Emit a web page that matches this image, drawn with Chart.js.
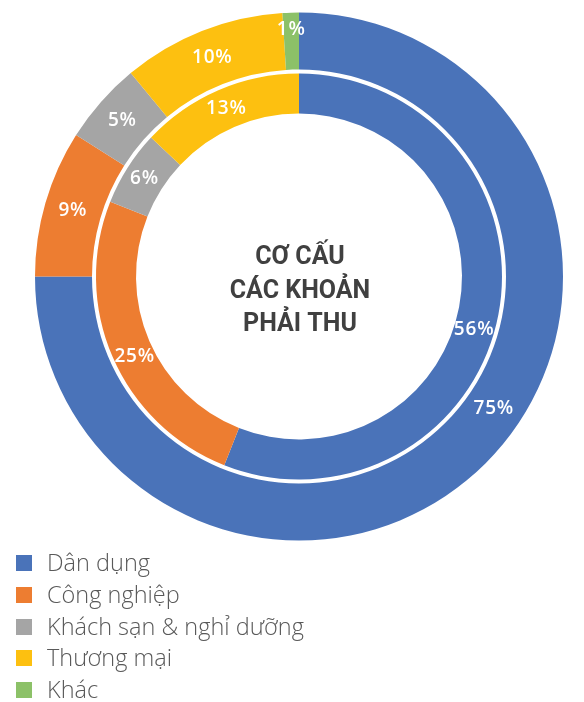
<!DOCTYPE html>
<html lang="vi">
<head>
<meta charset="utf-8">
<title>Cơ cấu các khoản phải thu</title>
<script src="https://cdn.jsdelivr.net/npm/chart.js@4.4.1/dist/chart.umd.min.js"></script>
<style>
  html, body { margin: 0; padding: 0; background: #fff; }
  #wrap { position: relative; width: 584px; height: 702px; overflow: hidden; }
  #chart { position: absolute; left: 0; top: 0; }
  #legend { position: absolute; left: 16px; top: 547px; margin: 0; padding: 0; list-style: none;
            font-family: "Open Sans", "Noto Sans", sans-serif; font-weight: 300; font-size: 23.5px; color: #595959; }
  #legend li { position: relative; height: 31.8px; line-height: 31.8px; padding-left: 31px; white-space: nowrap; }
  #legend li span.box { position: absolute; left: 0; top: 8px; width: 16px; height: 16px; }
</style>
</head>
<body>
<div id="wrap">
  <canvas id="chart" width="584" height="555"></canvas>
  <ul id="legend"></ul>
</div>
<script>
// Categories of receivables
const categories = ["Dân dụng", "Công nghiệp", "Khách sạn & nghỉ dưỡng", "Thương mại", "Khác"];
// Outer ring (%)
const outerValues = [75, 9, 5, 10, 1];
// Inner ring (%)
const innerValues = [56, 25, 6, 13, 0];
const colors = ["#4A73B9", "#ED7D31", "#A5A5A5", "#FDC010", "#8CC168"];
const centerTitle = ["CƠ CẤU", "CÁC KHOẢN", "PHẢI THU"];

// Percentage labels drawn on each arc
const arcLabels = {
  id: "arcLabels",
  afterDatasetsDraw(chart, args, opts) {
    const ctx = chart.ctx;
    ctx.save();
    ctx.fillStyle = opts.color;
    ctx.font = opts.font;
    if ("letterSpacing" in ctx) ctx.letterSpacing = opts.letterSpacing;
    ctx.textAlign = "center";
    ctx.textBaseline = "middle";
    chart.data.datasets.forEach((ds, di) => {
      if (!ds.showLabels) return;
      const meta = chart.getDatasetMeta(di);
      meta.data.forEach((arc, i) => {
        const v = ds.data[i];
        if (!v) return;
        const p = arc.getProps(["x", "y", "startAngle", "endAngle", "innerRadius", "outerRadius"], true);
        const along = (ds.labelAlong && ds.labelAlong[i] != null) ? ds.labelAlong[i] : 0.5;
        const push = (ds.labelPush && ds.labelPush[i]) || 0;
        const a = p.startAngle + (p.endAngle - p.startAngle) * along;
        const r = (p.innerRadius + p.outerRadius) / 2 + push;
        ctx.fillText(v + "%", p.x + Math.cos(a) * r, p.y + Math.sin(a) * r);
      });
    });
    ctx.restore();
  }
};

// Title in the hole of the doughnut
const centerText = {
  id: "centerText",
  afterDraw(chart, args, opts) {
    const ctx = chart.ctx;
    const meta = chart.getDatasetMeta(0);
    const cx = meta.data[0].x, cy = meta.data[0].y;
    ctx.save();
    ctx.fillStyle = opts.color;
    ctx.font = opts.font;
    ctx.textAlign = "center";
    ctx.textBaseline = "alphabetic";
    const lh = opts.lineHeight;
    const base = cy - 12.5;
    opts.lines.forEach((t, i) => ctx.fillText(t, cx + 1, base + i * lh));
    ctx.restore();
  }
};

new Chart(document.getElementById("chart"), {
  type: "doughnut",
  data: {
    labels: categories,
    datasets: [
      { data: outerValues, backgroundColor: colors, weight: 57, showLabels: true,
        labelAlong: [0.46, 0.5, 0.5, 0.5, 0.5], labelPush: [0, 0, 0, 0, 12] },
      { data: [1], backgroundColor: ["rgba(255,255,255,0)"], weight: 4, showLabels: false },
      { data: innerValues, backgroundColor: colors, weight: 40, showLabels: true,
        labelAlong: [0.53, 0.47, 0.5, 0.5, 0.5] }
    ]
  },
  options: {
    responsive: false,
    animation: false,
    cutout: "61.74%",
    layout: { padding: { left: 35, right: 21, top: 12.5, bottom: 14.5 } },
    elements: { arc: { borderWidth: 0, hoverOffset: 0 } },
    plugins: {
      legend: { display: false },
      tooltip: { enabled: false },
      arcLabels: { color: "#ffffff", font: "600 19px 'Open Sans', sans-serif", letterSpacing: "0.8px" },
      centerText: { color: "#404040", font: "bold 25px Roboto, sans-serif", lineHeight: 33.5, lines: centerTitle }
    }
  },
  plugins: [arcLabels, centerText]
});

// Vertical legend under the chart
const legend = document.getElementById("legend");
categories.forEach((c, i) => {
  const li = document.createElement("li");
  const box = document.createElement("span");
  box.className = "box";
  box.style.background = colors[i];
  li.appendChild(box);
  li.appendChild(document.createTextNode(c));
  legend.appendChild(li);
});
</script>
</body>
</html>
